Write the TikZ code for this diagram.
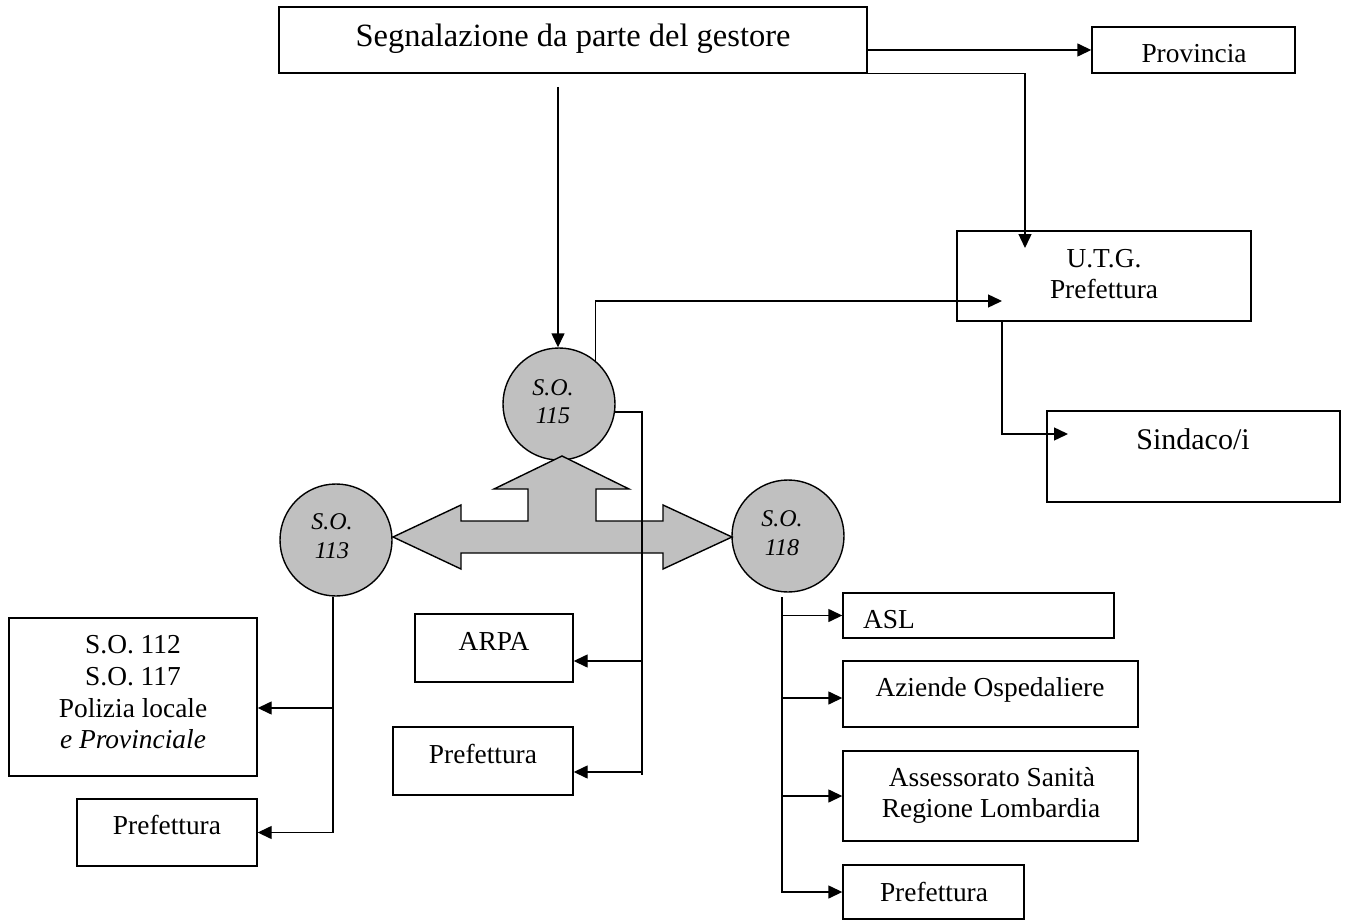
\documentclass[tikz,border=0pt]{standalone}
\usepackage{fontspec}
\setmainfont{Liberation Serif}
\usetikzlibrary{arrows.meta,calc}
\definecolor{grayfill}{RGB}{192,192,192}
\begin{document}
\begin{tikzpicture}[x=1pt,y=-1pt,
  box/.style={draw, line width=1.4pt, inner sep=0pt, rectangle},
  circ/.style={circle, draw, line width=1.4pt, fill=grayfill, minimum size=112pt, inner sep=0pt},
  txt/.style={anchor=base, inner sep=0pt, font=\fontsize{27.4}{32}\selectfont},
  ctxt/.style={anchor=base, inner sep=0pt, font=\fontsize{24}{28}\selectfont\itshape},
  conn/.style={line width=1.4pt},
  arr/.style={conn, -{Triangle[length=14pt,width=13pt]}},
  bigarrow/.style={draw, line width=1.4pt, fill=grayfill, line join=miter}
]
\useasboundingbox (0,0) rectangle (1346,920);

% boxes
\node[box, minimum width=588pt, minimum height=66pt] (top) at (573,40) {};
\node[box, minimum width=203pt, minimum height=46pt] (prov) at (1193.5,50) {};
\node[box, minimum width=294pt, minimum height=90pt] (utg) at (1104,276) {};
\node[box, minimum width=293pt, minimum height=91pt] (sind) at (1193.5,456.5) {};
\node[box, minimum width=158pt, minimum height=68pt] (arpa) at (494,648) {};
\node[box, minimum width=180pt, minimum height=68pt] (pref2) at (483,761) {};
\node[box, minimum width=248pt, minimum height=158pt] (big) at (133,697) {};
\node[box, minimum width=180pt, minimum height=67pt] (pref1) at (167,832.5) {};
\node[box, minimum width=271pt, minimum height=45pt] (asl) at (978.5,615.5) {};
\node[box, minimum width=295pt, minimum height=66pt] (azi) at (990.5,694) {};
\node[box, minimum width=295pt, minimum height=90pt] (ass) at (990.5,796) {};
\node[box, minimum width=181pt, minimum height=54pt] (pref3) at (933.5,892) {};

% circles
\node[circ] (so115) at (559,404) {};
\node[circ] (so113) at (336,540) {};
\node[circ] (so118) at (788,536) {};

% three-way gray arrow
\draw[bigarrow] (393,537) -- (461,505) -- (461,521) -- (528,521) -- (528,489) -- (494,489)
  -- (562,456) -- (629,489) -- (596,489) -- (596,521) -- (663,521) -- (663,505)
  -- (732,537) -- (663,569) -- (663,553) -- (461,553) -- (461,569) -- cycle;

% texts
\node[txt, font=\fontsize{32.5}{38}\selectfont] (topt) at (573,47) {Segnalazione da parte del gestore};
\node[txt] (provt) at (1194,63) {Provincia};
\node[txt] (utgt1) at (1104,267) {U.T.G.};
\node[txt] (utgt2) at (1104,298) {Prefettura};
\node[txt, font=\fontsize{30}{35}\selectfont] (sindt) at (1193,449) {Sindaco/i};
\node[ctxt] (so115a) at (553,395) {S.O.};
\node[ctxt] (so115b) at (553,423) {115};
\node[ctxt] (so113a) at (332,529) {S.O.};
\node[ctxt] (so113b) at (332,558) {113};
\node[ctxt] (so118a) at (782,526) {S.O.};
\node[ctxt] (so118b) at (782,555) {118};
\node[txt] (arpat) at (494,650) {ARPA};
\node[txt] (pref2t) at (483,763) {Prefettura};
\node[txt] (bigt1) at (133,653) {S.O. 112};
\node[txt] (bigt2) at (133,685) {S.O. 117};
\node[txt] (bigt3) at (133,717) {Polizia locale};
\node[txt] (bigt4) at (133,748) {\textit{e Provinciale}};
\node[txt] (pref1t) at (167,834) {Prefettura};
\node[txt, anchor=base west] (aslt) at (863,628) {ASL};
\node[txt] (azit) at (990,696) {Aziende Ospedaliere};
\node[txt] (asst1) at (992,786) {Assessorato Sanità};
\node[txt] (asst2) at (991,817) {Regione Lombardia};
\node[txt] (pref3t) at (934,901) {Prefettura};

% connectors
\coordinate (a0) at (558,87);
\coordinate (utgin) at (1025,248);
\coordinate (utgp) at (1002,301);
\coordinate (sindin) at (1068,434);
\coordinate (t115) at (642,775);
\coordinate (b1) at (642,661);
\coordinate (b2) at (642,772);
\coordinate (t113) at (333,597);
\coordinate (y708) at (0,708);
\coordinate (t118) at (782,597);
\coordinate (y698) at (0,698);

\draw[arr] (top.east |- prov.west) -- (prov.west);
\draw[arr] (top.south east) -| (utgin);
\draw[arr] (a0) -- (a0 |- so115.north);
\draw[arr] (so115.50) |- (utgp);
\draw[arr] (utgp |- utg.south) |- (sindin);

\draw[conn] (so115.-8) -| (t115);
\draw[arr] (b1) -- (b1 -| arpa.east);
\draw[arr] (b2) -- (b2 -| pref2.east);

\draw[arr] (t113) |- (pref1.east);
\draw[arr] (t113 |- y708) -- (y708 -| big.east);

\draw[arr] (t118) |- (pref3.west);
\draw[arr] (t118 |- asl.west) -- (asl.west);
\draw[arr] (t118 |- y698) -- (y698 -| azi.west);
\draw[arr] (t118 |- ass.west) -- (ass.west);
\end{tikzpicture}
\end{document}
